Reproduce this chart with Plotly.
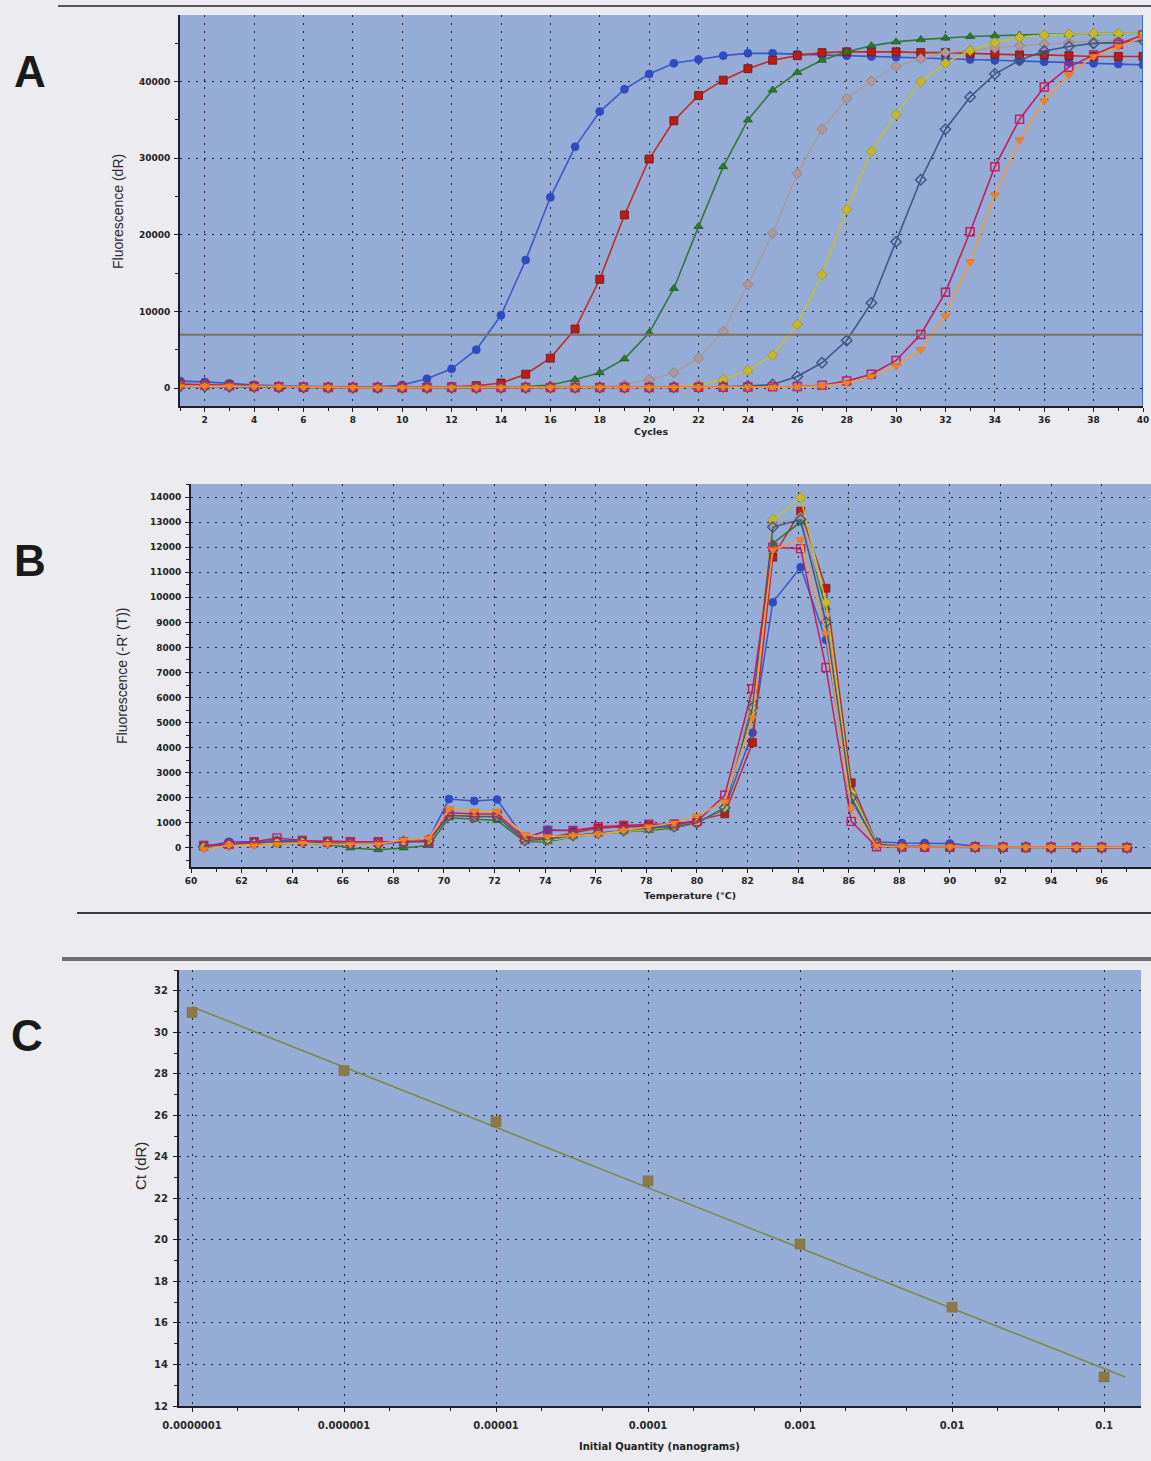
import numpy as np
import plotly.graph_objects as go

W, H = 1151, 1461

# ---------------- Panel A: amplification plots (fluorescence dR vs cycle) ----------------
cycles = list(range(1, 41))

amp_blue = [900, 800, 600, 400, 300, 200, 150, 150, 120, 400, 1200, 2500, 5000, 9500, 16700,
            24900, 31500, 36100, 39000, 41000, 42400, 42900, 43400, 43700, 43700, 43600, 43500,
            43400, 43300, 43200, 43100, 43000, 42900, 42800, 42700, 42600, 42500, 42400, 42300, 42200]
amp_red = [500, 450, 350, 250, 150, 100, 80, 60, 50, 50, 80, 150, 300, 650, 1800, 3900, 7700,
           14200, 22600, 29900, 34900, 38200, 40200, 41700, 42800, 43400, 43800, 43900, 43900,
           43900, 43800, 43800, 43700, 43600, 43500, 43500, 43400, 43300, 43300, 43300]
amp_green = [300, 250, 200, 150, 100, 80, 60, 50, 50, 50, 60, 80, 100, 150, 200, 400, 1100, 2000,
             3800, 7200, 13000, 21100, 28900, 35000, 38900, 41200, 42800, 43900, 44700, 45200,
             45500, 45700, 45900, 46000, 46100, 46200, 46200, 46300, 46300, 46300]
amp_gray = [400, 350, 250, 200, 150, 100, 80, 60, 50, 50, 50, 60, 60, 80, 80, 100, 120, 150, 400,
            1100, 2000, 3900, 7400, 13500, 20200, 28000, 33800, 37800, 40100, 42000, 43000, 43800,
            44100, 44400, 44700, 44900, 45100, 45300, 45400, 45500]
amp_yellow = [300, 250, 200, 150, 100, 80, 60, 50, 50, 50, 50, 50, 60, 60, 60, 80, 80, 80, 100,
              150, 200, 400, 1100, 2300, 4300, 8300, 14800, 23300, 30900, 35700, 40000, 42400,
              44100, 45100, 45800, 46100, 46200, 46300, 46300, 46300]
amp_slate = [200, 200, 150, 150, 100, 80, 60, 50, 50, 50, 50, 50, 50, 50, 50, 60, 60, 60, 80, 80,
             100, 100, 150, 250, 450, 1500, 3300, 6200, 11100, 19100, 27200, 33800, 38000, 41000,
             42800, 44000, 44600, 45000, 45100, 45400]
amp_magenta = [500, 400, 300, 200, 150, 100, 80, 60, 50, 50, 50, 50, 50, 50, 50, 50, 60, 60, 60,
               80, 80, 100, 100, 120, 150, 200, 350, 900, 1800, 3600, 7000, 12500, 20400, 28900,
               35100, 39300, 41900, 43500, 44900, 46100]
amp_orange = [200, 250, 250, 200, 150, 100, 80, 60, 50, 50, 50, 50, 50, 50, 50, 50, 60, 60, 60,
              60, 80, 80, 100, 100, 120, 150, 300, 650, 1500, 2900, 5000, 9400, 16500, 25200,
              32400, 37500, 40900, 43300, 44600, 45800]
threshold_dR = 6950

# ---------------- Panel B: melt curves (-R'(T) vs temperature) ----------------
temps = [60.5, 61.5, 62.5, 63.4, 64.4, 65.4, 66.3, 67.4, 68.4, 69.4, 70.2, 71.2, 72.1, 73.2,
         74.1, 75.1, 76.1, 77.1, 78.1, 79.1, 80.0, 81.1, 82.2, 83.0, 84.1, 85.1, 86.1, 87.1,
         88.1, 89.0, 90.0, 91.0, 92.1, 93.0, 94.0, 95.0, 96.0, 97.0]

melt_blue = [50, 250, 250, 300, 280, 250, 200, 200, 280, 350, 1950, 1870, 1930, 350, 730, 700,
             800, 850, 850, 900, 1000, 1600, 4600, 9800, 11200, 8300, 1900, 250, 200, 200, 180,
             80, 50, 30, 40, 30, 20, 10]
melt_red = [100, 150, 200, 250, 250, 280, 250, 250, 250, 300, 1300, 1250, 1250, 400, 400, 600,
            800, 850, 900, 950, 1100, 1360, 4200, 11600, 13440, 10360, 2600, 200, 50, 50, 40,
            50, 30, 30, 40, 30, 30, 20]
melt_green = [0, 100, 150, 150, 200, 150, 0, -70, 0, 100, 1200, 1150, 1100, 250, 250, 450, 550,
              650, 700, 800, 1000, 1550, 5900, 12150, 13000, 9600, 2300, 150, 50, 30, 30, 20, 20,
              10, 20, 10, 10, 10]
melt_gray = [50, 150, 200, 250, 250, 200, 200, 200, 250, 350, 1300, 1200, 1250, 300, 350, 500,
             600, 700, 800, 850, 1000, 1600, 6000, 12900, 13200, 9300, 2100, 150, 50, 40, 40,
             30, 30, 20, 20, 20, 10, 10]
melt_yellow = [50, 100, 150, 200, 250, 200, 150, 150, 250, 300, 1350, 1300, 1300, 300, 300, 450,
               550, 650, 750, 850, 1000, 1600, 5500, 13100, 13970, 9800, 2200, 200, 60, 40, 40,
               30, 30, 30, 20, 20, 20, 10]
melt_slate = [50, 150, 200, 250, 250, 200, 150, 150, 250, 300, 1300, 1250, 1250, 300, 350, 500,
              600, 700, 800, 850, 1000, 1600, 5600, 12800, 13100, 9000, 2000, 150, 80, 60, 50,
              40, 30, 30, 30, 20, 20, 10]
melt_magenta = [100, 150, 250, 400, 300, 250, 250, 250, 250, 250, 1400, 1350, 1350, 400, 700,
                700, 850, 900, 950, 950, 1050, 2100, 6350, 12000, 11940, 7200, 1060, 50, 40, 30,
                30, 30, 30, 20, 20, 20, 20, 10]
melt_orange = [-50, 100, 100, 150, 200, 150, 150, 150, 330, 400, 1560, 1470, 1470, 530, 450, 500,
               550, 700, 850, 1000, 1270, 1850, 5200, 11900, 12300, 8570, 1560, 80, 50, 40, 40,
               40, 40, 30, 40, 30, 30, 20]

# ---------------- Panel C: standard curve (Ct vs initial quantity) ----------------
quantity_ng = [1e-7, 1e-6, 1e-5, 1e-4, 1e-3, 1e-2, 1e-1]
ct_values = [30.96, 28.16, 25.70, 22.85, 19.80, 16.76, 13.40]
quantity_ticks = [1e-7, 1e-6, 1e-5, 1e-4, 1e-3, 1e-2, 1e-1]
quantity_labels = ["0.0000001", "0.000001", "0.00001", "0.0001", "0.001", "0.01", "0.1"]
fit_x_end = 0.138

# series styling: (name, line colour, marker colour, symbol, edge colour)
styles = [
    ("blue", "#3a58cc", "#2d4cc0", "circle", "#2d4cc0"),
    ("red", "#c42a20", "#b81e14", "square", "#7c1010"),
    ("green", "#2e7a30", "#2a7a2a", "triangle-up", "#1e5a1e"),
    ("gray", "#a89c9c", "#b09898", "diamond", "#8a7a7a"),
    ("yellow", "#c4c038", "#c8b828", "diamond", "#9a9020"),
    ("slate", "#3c5888", "#3c5888", "diamond-open", "#3c5888"),
    ("magenta", "#c0205e", "#c0205e", "square-open", "#c0205e"),
    ("orange", "#f59a40", "#f58220", "triangle-down", "#e07010"),
]
amp_series = [amp_blue, amp_red, amp_green, amp_gray, amp_yellow, amp_slate, amp_magenta, amp_orange]
melt_series = [melt_blue, melt_red, melt_green, melt_gray, melt_yellow, melt_slate, melt_magenta, melt_orange]

PLOT_BG = "#95acd7"
PAPER_BG = "#ececf0"
AXIS_COL = "#1e1e2e"
GRID_COL = "#23232e"
TICK_FONT = dict(family="DejaVu Sans", size=9, color="#222222", weight="bold")
TICK_FONT_C = dict(family="DejaVu Sans", size=10, color="#2a2a2a", weight="bold")


def fx(px):
    return px / W


def fy(py):
    return 1 - py / H


fig = go.Figure()

for (name, lc, mc, sym, ec), ys in zip(styles, amp_series):
    open_sym = sym.endswith("open")
    fig.add_trace(go.Scatter(
        x=cycles, y=ys, mode="lines+markers", name=name, xaxis="x", yaxis="y",
        line=dict(color=lc, width=1.6),
        marker=dict(symbol=sym, size=8, color=mc,
                    line=dict(color=ec, width=1.5 if open_sym else 0.8)),
        showlegend=False))

for (name, lc, mc, sym, ec), ys in zip(styles, melt_series):
    open_sym = sym.endswith("open")
    fig.add_trace(go.Scatter(
        x=temps, y=ys, mode="lines+markers", name=name, xaxis="x2", yaxis="y2",
        line=dict(color=lc, width=1.5),
        marker=dict(symbol=sym, size=8, color=mc,
                    line=dict(color=ec, width=1.4 if open_sym else 0.6)),
        showlegend=False))

# standard-curve regression on log10(quantity)
slope, intercept = np.polyfit(np.log10(quantity_ng), ct_values, 1)
fit_x = np.array([quantity_ng[0], fit_x_end])
fit_y = slope * np.log10(fit_x) + intercept
fig.add_trace(go.Scatter(x=fit_x, y=fit_y, mode="lines", xaxis="x3", yaxis="y3",
                         line=dict(color="#7d8848", width=1.6), showlegend=False))
fig.add_trace(go.Scatter(x=quantity_ng, y=ct_values, mode="markers", xaxis="x3", yaxis="y3",
                         marker=dict(symbol="square", size=10, color="#8c7a44",
                                     line=dict(color="#7a6a38", width=0.5)),
                         showlegend=False))


def axis_common(**kw):
    d = dict(showline=True, linecolor=AXIS_COL, linewidth=2, mirror=False, automargin=False,
             ticks="outside", ticklen=4, tickwidth=1, tickcolor=AXIS_COL,
             showgrid=True, gridcolor=GRID_COL, gridwidth=1, griddash="2px,6px",
             zeroline=False, tickfont=TICK_FONT, fixedrange=True)
    d.update(kw)
    return d


minor_kw = dict(ticks="outside", ticklen=3, tickcolor=AXIS_COL, showgrid=False)

layout = dict(
    width=W, height=H, margin=dict(l=0, r=0, t=0, b=0),
    paper_bgcolor=PAPER_BG, plot_bgcolor=PLOT_BG, showlegend=False,
    xaxis=axis_common(domain=[fx(180), fx(1143)], range=[1, 40], dtick=2, tick0=0,
                      minor=dict(dtick=1, **minor_kw), anchor="y"),
    yaxis=axis_common(domain=[fy(406), fy(15)], range=[-2350, 48710], dtick=10000, tick0=0,
                      tickformat="d", minor=dict(dtick=5000, **minor_kw),
                      anchor="x", ticklabelstandoff=2),
    xaxis2=axis_common(domain=[fx(191), 1.0], range=[60, 97.95], dtick=2, tick0=60,
                       minor=dict(dtick=1, **minor_kw), anchor="y2"),
    yaxis2=axis_common(domain=[fy(867), fy(484)], range=[-760, 14520], dtick=1000, tick0=0,
                       tickformat="d", minor=dict(dtick=500, **minor_kw),
                       anchor="x2", ticklabelstandoff=2),
    xaxis3=axis_common(domain=[fx(179), fx(1141)], type="log", range=[-7.0855, -0.757],
                       tickvals=quantity_ticks, ticktext=quantity_labels,
                       minor=dict(**minor_kw), anchor="y3", tickfont=TICK_FONT_C,
                       ticklabelstandoff=5),
    yaxis3=axis_common(domain=[fy(1406), fy(970)], range=[12, 33.01], dtick=2, tick0=0,
                       minor=dict(dtick=1, **minor_kw), tickfont=TICK_FONT_C,
                       anchor="x3", ticklabelstandoff=3),
)
fig.update_layout(**layout)

shapes = [
    # threshold line across the amplification plot
    dict(type="line", xref="x", yref="y", x0=1, x1=40, y0=threshold_dR, y1=threshold_dR,
         line=dict(color="#7a7262", width=2)),
    # cursor at the last cycle
    dict(type="line", xref="x", yref="paper", x0=40, x1=40, y0=fy(406), y1=fy(15),
         line=dict(color="#3f6ad6", width=2)),
    # separator rules
    dict(type="line", xref="paper", yref="paper", x0=fx(58), x1=1, y0=fy(6), y1=fy(6),
         line=dict(color="#55555c", width=2)),
    dict(type="line", xref="paper", yref="paper", x0=fx(77), x1=1, y0=fy(913), y1=fy(913),
         line=dict(color="#3a3a42", width=2)),
    dict(type="line", xref="paper", yref="paper", x0=fx(62), x1=1, y0=fy(959), y1=fy(959),
         line=dict(color="#6e6e74", width=4)),
]
fig.update_layout(shapes=shapes)

title_font = dict(family="Liberation Sans Narrow, Liberation Sans", size=14, color="#2a2a2a")
small_bold = dict(family="DejaVu Sans", size=9.5, color="#222222", weight="bold")
letter_font = dict(family="Liberation Sans", size=44, color="#1a1a1a", weight="bold")


def label(text, px, py, font, angle=0):
    return dict(text=text, x=fx(px), y=fy(py), xref="paper", yref="paper", showarrow=False,
                xanchor="center", yanchor="middle", textangle=angle, font=font)


annotations = [
    label("A", 30, 72, letter_font),
    label("B", 30, 560, letter_font),
    label("C", 27, 1035, letter_font),
    label("Fluorescence (dR)", 118, 212, title_font, -90),
    label("Cycles", 651, 432, small_bold),
    label("Fluorescence (-R' (T))", 122, 676, title_font, -90),
    label("Temperature (°C)", 690, 896, small_bold),
    label("Ct (dR)", 140, 1166, dict(family="Liberation Sans", size=15, color="#2a2a2a"), -90),
    label("Initial Quantity (nanograms)", 660, 1446,
          dict(family="DejaVu Sans", size=10, color="#222222", weight="bold")),
]
fig.update_layout(annotations=annotations)

fig.write_html("out.html")
